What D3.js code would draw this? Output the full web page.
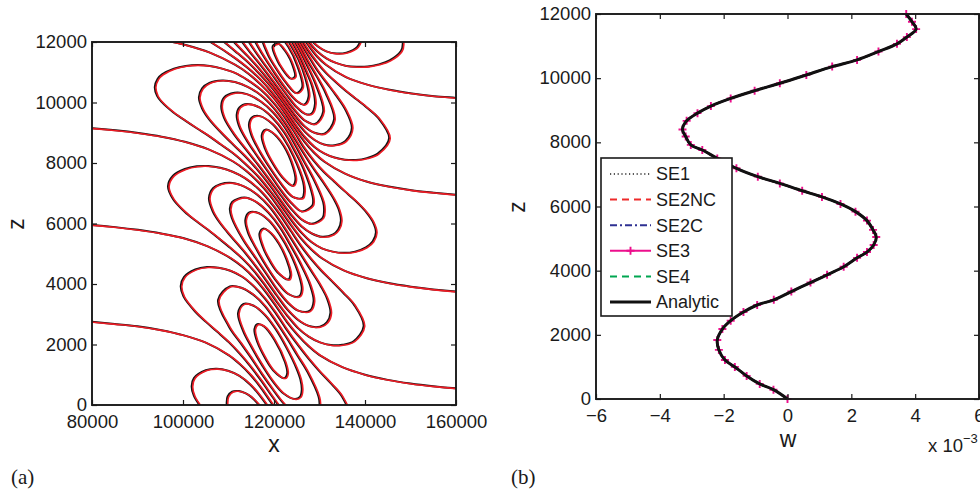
<!DOCTYPE html>
<html><head><meta charset="utf-8">
<script src="https://cdn.jsdelivr.net/npm/d3@7"></script>
<style>
body{margin:0;background:#fff;}
svg text{font-family:"Liberation Sans",Arial,Helvetica,sans-serif;fill:#1a1a1a;}
</style></head>
<body><svg id="chart" width="980" height="493"></svg>
<script>
// ---------------- DATA ----------------
// Panel (a): axis ticks
const xTicksA = [80000, 100000, 120000, 140000, 160000];
const zTicksA = [0, 2000, 4000, 6000, 8000, 10000, 12000];
// Panel (b): axis ticks (w in units of 1e-3)
const wTicksB = [-6, -4, -2, 0, 2, 4, 6];
const zTicksB = [0, 2000, 4000, 6000, 8000, 10000, 12000];

// Panel (b): vertical profile of w (w in 1e-3)
const profileZ = [0,290,470,720,1000,1215,1530,1840,2180,2440,2710,2930,3090,3350,3630,3870,4120,4400,4580,4800,5050,5270,5560,5840,6080,6300,6490,6720,6930,7190,7500,7760,7920,8180,8400,8670,8910,9130,9370,9610,9840,10100,10360,10570,10830,11070,11280,11530,11760,12000];
const profileW = [0,-0.44,-0.87,-1.28,-1.65,-1.96,-2.15,-2.2,-2.04,-1.78,-1.38,-0.95,-0.43,0.12,0.72,1.24,1.76,2.18,2.49,2.7,2.78,2.68,2.49,2.13,1.66,1.08,0.46,-0.24,-0.93,-1.6,-2.2,-2.67,-3.03,-3.19,-3.29,-3.16,-2.82,-2.4,-1.78,-1.03,-0.24,0.59,1.4,2.18,2.85,3.43,3.74,4.03,3.9,3.72];
const seriesNames = ["SE1", "SE2NC", "SE2C", "SE3", "SE4", "Analytic"];

// Panel (a): contour lines of w as [x, z, x, z, ...]
// zero contours
const zero0 = [75000,2810, 80000,2750, 85000,2680, 90000,2600, 95000,2480, 100000,2310, 105000,2060, 110000,1650, 112400,1360, 114800,1000, 117200,550, 119500,50, 121900,-440];
const zero1 = [75100,6000, 80100,5950, 85100,5880, 90100,5790, 95200,5670, 100200,5510, 105300,5250, 110500,4850, 113100,4560, 115600,4200, 118100,3750, 120500,3250, 122800,2750, 125200,2310, 127600,1940, 130000,1650, 135000,1250, 140000,1000, 145000,830, 150000,710, 155000,620, 160000,550, 165000,500];
const zero2 = [75100,9200, 80100,9150, 85200,9080, 90200,8990, 95300,8870, 100400,8700, 105600,8450, 111000,8050, 113700,7760, 116400,7390, 119000,6950, 121400,6450, 123700,5950, 125900,5510, 128200,5140, 130500,4850, 135300,4450, 140200,4200, 145100,4030, 150100,3910, 155000,3820, 160000,3750, 165000,3700];
const zero3 = [75200,12400, 80200,12340, 85200,12280, 90300,12190, 95400,12070, 100600,11900, 105900,11650, 111400,11250, 114300,10960, 117100,10590, 119900,10150, 122400,9650, 124600,9150, 126700,8700, 128800,8340, 131000,8050, 135600,7650, 140300,7390, 145200,7220, 150200,7100, 155100,7020, 160100,6950, 165000,6890];
const zero4 = [111900,14440, 117900,13790, 123400,12840, 125500,12350, 127500,11900, 129400,11530, 131400,11250, 135800,10840, 140500,10590, 145400,10420, 150300,10300, 155200,10210, 160200,10150, 165100,10090];
// cell below ground (w > 0)
const cellZ05 = [104800,-240, 102400,300, 101900,620, 102400,890, 105000,1150, 107400,1200, 109900,1130, 112400,960, 114800,670, 117100,270, 119400,-220];
const cellZ10 = [109700,-170, 109600,70, 109800,280, 110800,440, 112300,460, 113700,390, 114700,300, 115600,180, 117000,-50];
// cell A (w < 0, near z = 1700)
const cellA05 = [99500,3930, 100200,4230, 102700,4480, 105300,4560, 107800,4540, 110400,4440, 113000,4240, 115500,3930, 118000,3520, 120400,3030, 122700,2510, 125100,2010, 127500,1550, 129900,1130, 132400,730, 134900,290, 136800,-470, 134800,-980, 132200,-1070, 129600,-1030, 127000,-870, 124500,-590, 122000,-200, 119600,280, 117300,780, 114900,1260, 112500,1690, 110100,2070, 107600,2410, 105100,2740, 102600,3100, 100100,3590];
const cellA10 = [107700,3470, 110300,3920, 112900,3870, 115500,3640, 118000,3270, 120300,2790, 122700,2240, 125000,1670, 127400,1080, 129800,270, 130000,30, 129700,-170, 127100,-400, 124500,-260, 122000,70, 119700,520, 117300,1030, 115000,1550, 112600,2060, 110100,2590];
const cellA15 = [112100,3040, 113300,3340, 115400,3290, 117900,2990, 120300,2520, 122600,1930, 124900,1220, 125800,840, 126100,500, 125700,270, 124600,200, 122100,380, 119700,790, 117400,1310, 115100,1900, 113200,2450];
const cellA20 = [115700,2510, 116300,2670, 117800,2600, 120100,2150, 122400,1420, 122900,1050, 122300,890, 119800,1150, 117500,1700, 116100,2180];
// cell B (w > 0, near z = 5000)
const cellB05 = [96700,7230, 97800,7580, 100400,7800, 103000,7890, 105600,7900, 108200,7840, 110900,7710, 113600,7500, 116300,7180, 118900,6760, 121400,6270, 123700,5750, 125900,5260, 128100,4830, 130400,4440, 132800,4080, 135200,3710, 137600,3310, 139700,2610, 137500,2110, 135000,1990, 132500,1980, 130100,2070, 127600,2260, 125200,2550, 122900,2950, 120500,3430, 118100,3940, 115700,4410, 113100,4830, 110500,5180, 107900,5500, 105400,5800, 102800,6090, 100300,6400, 97800,6810];
const cellB10 = [105700,6840, 106600,7170, 108200,7300, 110900,7340, 113600,7210, 116300,6950, 118900,6570, 121300,6080, 123600,5540, 125800,5000, 128000,4470, 130300,3920, 131700,3500, 132400,3050, 131600,2730, 130100,2590, 127700,2610, 125300,2810, 122900,3160, 120600,3620, 118200,4130, 115700,4640, 113200,5110, 110600,5560, 108000,6040, 106500,6410];
const cellB15 = [110300,6490, 110800,6710, 113500,6860, 116200,6700, 118800,6350, 121300,5870, 123500,5310, 125700,4700, 127900,3970, 128700,3430, 127800,3110, 125300,3120, 123000,3390, 120600,3830, 118300,4340, 115800,4890, 113200,5460, 110700,6190];
const cellB20 = [113700,6120, 114500,6360, 116100,6370, 118800,6110, 121200,5640, 123500,5030, 125600,4230, 126100,3820, 125500,3590, 123100,3670, 120700,4060, 118300,4590, 115900,5210, 114300,5690];
const cellB25 = [116800,5660, 117600,5830, 118700,5760, 121100,5320, 123300,4560, 123600,4290, 123200,4150, 120800,4380, 118400,4940, 117500,5240];
// cell C (w < 0, near z = 8300)
const cellC05 = [93800,10510, 94400,10780, 95400,10930, 98000,11120, 100600,11210, 103200,11240, 105900,11210, 108600,11120, 111400,10980, 114200,10740, 117100,10420, 119900,9990, 122400,9500, 124600,8990, 126600,8500, 128700,8080, 130900,7710, 133200,7390, 135500,7070, 137900,6750, 140300,6370, 141700,6060, 142400,5710, 141700,5410, 140200,5210, 137800,5070, 135300,5030, 132900,5070, 130500,5180, 128200,5390, 126000,5700, 123800,6110, 121500,6600, 119000,7100, 116400,7570, 113700,7970, 111000,8320, 108300,8610, 105700,8890, 103100,9140, 100500,9400, 97900,9670, 95300,10020, 94300,10220];
const cellC10 = [103500,10170, 104200,10470, 105800,10650, 108600,10730, 111400,10680, 114200,10520, 117100,10240, 119800,9840, 122300,9350, 124500,8820, 126600,8300, 128700,7810, 130900,7340, 133100,6820, 134200,6470, 134700,6090, 134100,5800, 133000,5640, 130600,5560, 128300,5670, 126000,5910, 123800,6280, 121500,6750, 119100,7260, 116500,7750, 113800,8200, 111000,8610, 108400,9000, 105700,9450, 104200,9800];
const cellC15 = [108400,9880, 109000,10160, 111300,10320, 114200,10270, 117000,10040, 119800,9670, 122300,9190, 124500,8640, 126500,8070, 128600,7490, 130800,6710, 131000,6420, 130700,6190, 128300,5990, 126100,6130, 123900,6460, 121600,6910, 119100,7420, 116500,7940, 113800,8450, 111100,8970, 109000,9500];
const cellC20 = [111800,9590, 112400,9840, 114100,9950, 117000,9820, 119700,9490, 122200,9020, 124400,8440, 126500,7800, 128500,6890, 128600,6720, 128400,6590, 126100,6400, 123900,6660, 121600,7080, 119200,7600, 116600,8160, 113900,8770, 112300,9230];
const cellC25 = [114500,9280, 115200,9510, 116900,9550, 119700,9280, 122100,8820, 124300,8210, 126400,7370, 126600,7040, 126200,6840, 124000,6890, 121700,7280, 119200,7810, 116600,8440, 115000,8930];
const cellC30 = [117300,8910, 118100,9100, 119600,9010, 122100,8570, 124200,7850, 124700,7430, 124100,7250, 121800,7530, 119300,8090, 118000,8480];
// cell D (w > 0, near z = 11500)
const cellD05 = [125500,12210, 127400,11740, 129400,11330, 131400,10980, 133600,10670, 135800,10380, 138100,10110, 140500,9820, 142900,9490, 145300,8820, 142800,8310, 140400,8160, 138000,8100, 135600,8110, 133300,8180, 131000,8320, 128800,8540, 126700,8860, 124600,9280, 122400,9770, 119900,10270, 117200,10730, 114300,11130, 111500,11460, 106000,12000, 100600,12450];
const cellD10 = [125400,12080, 127400,11580, 129300,11110, 131400,10680, 133500,10260, 135700,9760, 137100,9160, 135700,8730, 133300,8590, 131000,8610, 128900,8760, 126800,9030, 124700,9420, 122500,9890, 120000,10400, 117200,10880, 114400,11310, 111500,11690, 108700,12040];
const cellD15 = [123200,12480, 125400,11940, 127300,11400, 129300,10880, 131300,10320, 133200,9440, 131100,8970, 128900,9000, 126800,9200, 124700,9560, 122500,10010, 120000,10520, 117200,11030, 114400,11500, 111500,11950, 108800,12430];
const cellD20 = [123200,12340, 125400,11790, 127300,11210, 129200,10580, 130800,9700, 129000,9290, 126900,9390, 124800,9700, 122500,10150, 120000,10660, 117300,11190, 114400,11720, 111600,12290];
const cellD25 = [123200,12200, 125300,11630, 127200,10980, 128400,10520, 129000,9950, 128200,9630, 126900,9620, 124800,9870, 122600,10290, 120100,10810, 117300,11380, 114500,11990, 113300,12290];
const cellD30 = [123100,12040, 125300,11440, 126800,10840, 127600,10200, 126600,9930, 124900,10060, 122600,10450, 120100,10980, 117400,11600, 115700,12050];
const cellD35 = [117300,12220, 118600,11600, 120200,11180, 122700,10640, 124900,10310, 126200,10500, 125200,11180, 123100,11850, 120500,12310, 118800,12450];
const cellD40 = [119700,11860, 120800,11360, 121800,11110, 122800,10910, 123700,10790, 124600,10860, 123900,11300, 123000,11580, 122000,11790, 121000,11940];
// cell E (w < 0, above the top)
const cellE05 = [127500,12030, 129400,11700, 131500,11460, 133600,11310, 135900,11210, 138200,11180, 140600,11190, 143000,11260, 145400,11390, 147900,11700, 148300,11940, 147900,12210];
const cellE10 = [127500,12160, 129500,11870, 131500,11690, 133700,11620, 135900,11650, 138300,11840, 139400,12250];

const openContours = [zero0, zero1, zero2, zero3, zero4, cellZ05, cellZ10, cellD05, cellD10, cellD15, cellD20, cellD25, cellD30, cellE05, cellE10];
const closedContours = [cellA05, cellA10, cellA15, cellA20, cellB05, cellB10, cellB15, cellB20, cellB25, cellC05, cellC10, cellC15, cellC20, cellC25, cellC30, cellD35, cellD40];

// ---------------- DRAWING ----------------
const svg = d3.select("#chart");
const FONT = 18.5;
const toPairs = a => d3.range(0, a.length, 2).map(i => [a[i], a[i + 1]]);
const fmt = d => d < 0 ? "\u2212" + (-d) : String(d);

function drawFrame(g, xs, ys, xt, yt, tickFmt) {
  const [x0, x1] = xs.range(), [y0, y1] = ys.range();
  const bottom = g.append("g").attr("transform", `translate(0,${y0})`)
    .call(d3.axisBottom(xs).tickValues(xt).tickSizeInner(-5).tickSizeOuter(0).tickPadding(10).tickFormat(tickFmt));
  const left = g.append("g").attr("transform", `translate(${x0},0)`)
    .call(d3.axisLeft(ys).tickValues(yt).tickSizeInner(-5).tickSizeOuter(0).tickPadding(5).tickFormat(fmt));
  const top = g.append("g").attr("transform", `translate(0,${y1})`)
    .call(d3.axisTop(xs).tickValues(xt).tickSizeInner(-5).tickSizeOuter(0).tickFormat(""));
  const right = g.append("g").attr("transform", `translate(${x1},0)`)
    .call(d3.axisRight(ys).tickValues(yt).tickSizeInner(-5).tickSizeOuter(0).tickFormat(""));
  [bottom, left, top, right].forEach(a => {
    a.select(".domain").remove();
    a.selectAll(".tick line").attr("stroke", "#1a1a1a").attr("stroke-width", 1.2);
    a.selectAll(".tick text").attr("font-size", FONT).attr("fill", "#1a1a1a")
      .attr("font-family", "'Liberation Sans',Arial,Helvetica,sans-serif");
  });
  left.selectAll(".tick text").attr("dy", "0.30em");
  g.append("rect").attr("x", x0).attr("y", y1).attr("width", x1 - x0).attr("height", y0 - y1)
    .attr("fill", "none").attr("stroke", "#1a1a1a").attr("stroke-width", 1.9);
}

// ----- Panel (a) -----
const xA = d3.scaleLinear().domain([80000, 160000]).range([92, 456]);
const zA = d3.scaleLinear().domain([0, 12000]).range([405, 42]);
svg.append("defs").append("clipPath").attr("id", "clipA")
  .append("rect").attr("x", 92).attr("y", 42).attr("width", 364).attr("height", 363);

const gA = svg.append("g");
const cont = gA.append("g").attr("clip-path", "url(#clipA)");
const lineOpen = d3.line().x(d => xA(d[0])).y(d => zA(d[1])).curve(d3.curveCatmullRom.alpha(0.5));
const lineClosed = d3.line().x(d => xA(d[0])).y(d => zA(d[1])).curve(d3.curveCatmullRomClosed.alpha(0.5));

const blackG = cont.append("g");
const redG = cont.append("g").attr("transform", "translate(1.1,0.4)");
[[blackG, "#141414", 2.0], [redG, "#ee1c25", 1.6]].forEach(([g, col, w]) => {
  g.selectAll("path.o").data(openContours).join("path").attr("class", "o")
    .attr("d", d => lineOpen(toPairs(d))).attr("fill", "none").attr("stroke", col).attr("stroke-width", w);
  g.selectAll("path.c").data(closedContours).join("path").attr("class", "c")
    .attr("d", d => lineClosed(toPairs(d))).attr("fill", "none").attr("stroke", col).attr("stroke-width", w);
});
drawFrame(gA, xA, zA, xTicksA, zTicksA, fmt);

gA.append("text").attr("x", 274).attr("y", 452).attr("text-anchor", "middle").attr("font-size", 23).text("x");
gA.append("text").attr("transform", "translate(24,224) rotate(-90)").attr("text-anchor", "middle").attr("font-size", 23).text("z");
svg.append("text").attr("x", 11).attr("y", 484).attr("font-size", 21)
  .style("font-family", "'Liberation Serif','DejaVu Serif',serif").text("(a)");

// ----- Panel (b) -----
const xB = d3.scaleLinear().domain([-6, 6]).range([596, 979]);
const zB = d3.scaleLinear().domain([0, 12000]).range([399, 14]);
const gB = svg.append("g");
const prof = profileZ.map((z, i) => [profileW[i], z]);
const lineB = d3.line().x(d => xB(d[0])).y(d => zB(d[1])).curve(d3.curveCatmullRom.alpha(0.5));

const styles = {
  SE1: {stroke: "#222", width: 1.3, dash: "1.2,2.6"},
  SE2NC: {stroke: "#ee2a2a", width: 2, dash: "7,5"},
  SE2C: {stroke: "#2e3192", width: 2, dash: "7,3,2,3"},
  SE3: {stroke: "#ec0f8c", width: 2, dash: null},
  SE4: {stroke: "#00a651", width: 2, dash: "7,5"},
  Analytic: {stroke: "#111", width: 3, dash: null}
};
const plotB = gB.append("g");
seriesNames.forEach(name => {
  const s = styles[name];
  plotB.append("path").attr("d", lineB(prof)).attr("fill", "none")
    .attr("stroke", s.stroke).attr("stroke-width", s.width).attr("stroke-dasharray", s.dash);
  if (name === "SE3") {
    plotB.selectAll("path.mk").data(prof).join("path").attr("class", "mk")
      .attr("transform", d => `translate(${xB(d[0])},${zB(d[1])})`)
      .attr("d", "M-4,0H4M0,-4V4").attr("stroke", s.stroke).attr("stroke-width", 1.9).attr("fill", "none");
  }
});
drawFrame(gB, xB, zB, wTicksB, zTicksB, fmt);

gB.append("text").attr("x", 788).attr("y", 447).attr("text-anchor", "middle").attr("font-size", 23).text("w");
gB.append("text").attr("transform", "translate(525,207) rotate(-90)").attr("text-anchor", "middle").attr("font-size", 23).text("z");
const ex = gB.append("text").attr("x", 928).attr("y", 452).attr("font-size", 18.5);
ex.append("tspan").text("x 10");
ex.append("tspan").attr("font-size", 13).attr("dy", -9).text("\u22123");
svg.append("text").attr("x", 511).attr("y", 484).attr("font-size", 21)
  .style("font-family", "'Liberation Serif','DejaVu Serif',serif").text("(b)");

// legend
const lg = gB.append("g");
lg.append("rect").attr("x", 601).attr("y", 158).attr("width", 131).attr("height", 158)
  .attr("fill", "#fff").attr("stroke", "#1a1a1a").attr("stroke-width", 1.6);
const ly = d3.scalePoint().domain(seriesNames).range([174, 302]);
seriesNames.forEach(name => {
  const s = styles[name], y = ly(name);
  lg.append("line").attr("x1", 610).attr("x2", 651).attr("y1", y).attr("y2", y)
    .attr("stroke", s.stroke).attr("stroke-width", s.width).attr("stroke-dasharray", s.dash);
  if (name === "SE3") {
    lg.append("path").attr("transform", `translate(630.5,${y})`).attr("d", "M-4,0H4M0,-4V4")
      .attr("stroke", s.stroke).attr("stroke-width", 1.9);
  }
  lg.append("text").attr("x", 656).attr("y", y).attr("dy", "0.35em").attr("font-size", 18).text(name);
});
</script></body></html>
